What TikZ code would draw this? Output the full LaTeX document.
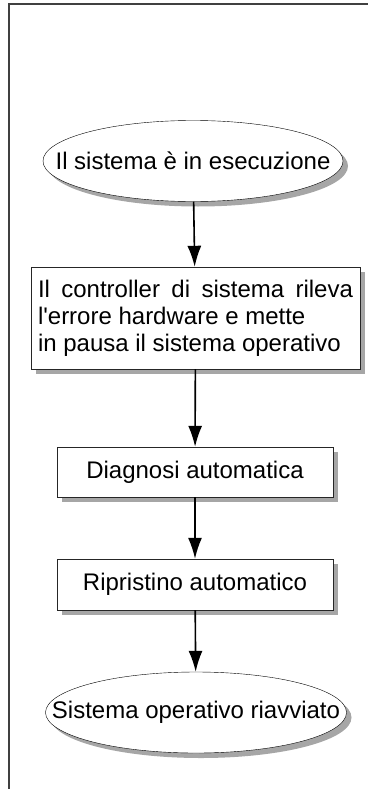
\documentclass[tikz,border=0pt]{standalone}
\usepackage{fontspec}
\setmainfont{Liberation Sans}
\usetikzlibrary{shapes.geometric,shadows,arrows.meta}

\begin{document}
\begin{tikzpicture}[x=1pt,y=-1pt,line join=miter,
    font=\fontsize{24}{27}\selectfont,
    >={Latex[length=21pt,width=14pt]},
    shade/.style={drop shadow={shadow xshift=5pt,shadow yshift=-5pt,fill=black!35,opacity=1}},
    term/.style={ellipse,draw,fill=white,inner sep=0,shade},
    stepbox/.style={rectangle,draw=black!85,fill=white,inner sep=0,shade}]
  \useasboundingbox (0,0) rectangle (368,789);
  \draw[black!75,line width=1.5pt] (9,789) -- (9,4) -- (368,4);

  \node (run) at (193,161) [term,minimum width=300,minimum height=81,
    label=center:{Il sistema è in esecuzione}]{};
  \node (ctrl) at (195.5,318) [stepbox,minimum width=329,minimum height=102,align=left]
    {\makebox[315pt][s]{Il controller di sistema rileva}\\l\textquotesingle errore hardware e mette\\in pausa il sistema operativo};
  \node (diag) at (195,472) [stepbox,minimum width=276,minimum height=50]{Diagnosi automatica};
  \node (fix) at (195,584.5) [stepbox,minimum width=276,minimum height=51]{Ripristino automatico};
  \node (boot) at (196,712.5) [term,minimum width=301,minimum height=81,
    label=center:{Sistema operativo riavviato}]{};

  \draw[->,line width=1.6pt] (run) -- (ctrl);
  \draw[->,line width=1.6pt] (ctrl) -- (diag);
  \draw[->,line width=1.6pt] (diag) -- (fix);
  \draw[->,line width=1.6pt] (fix) -- (boot);

\end{tikzpicture}
\end{document}
